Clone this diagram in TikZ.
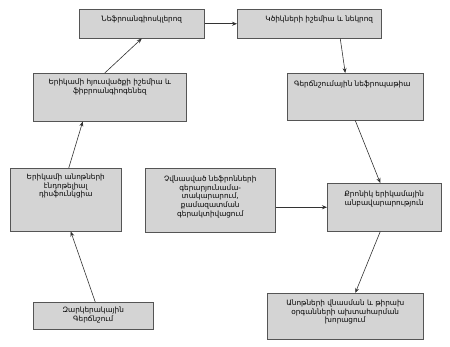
\documentclass[tikz,border=0pt]{standalone}
\usepackage{fontspec}
\setmainfont{DejaVu Sans}
\usepackage{tikz}
\usetikzlibrary{arrows.meta,positioning,shadows}
\usepackage{xcolor}
\definecolor{boxfill}{HTML}{D4D4D4}
\definecolor{boxline}{HTML}{555555}

\begin{document}
\begin{tikzpicture}[
  x=1pt, y=-1pt,
  box/.style={draw=boxline, fill=boxfill, line width=0.5pt, anchor=north west,
              inner sep=0pt, drop shadow={shadow xshift=1.2pt, shadow yshift=-1.2pt,
              fill=black!65, opacity=1}},
  lbl/.style={anchor=north, align=center, inner sep=0pt,
              font=\fontsize{7.3}{8.6}\selectfont},
  arrow/.style={-{Stealth[length=5pt,width=4pt]}, line width=0.6pt, draw=black!80}
]
\useasboundingbox (0,0) rectangle (450,346);

%% Boxes
\node[box, minimum width=125pt, minimum height=29pt] (nephro) at (79,9) {};
\node[box, minimum width=144pt, minimum height=29pt] (ischem) at (237,9) {};
\node[box, minimum width=153pt, minimum height=48pt] (fibro)  at (33,73) {};
\node[box, minimum width=136pt, minimum height=47pt] (hypnep) at (287,73) {};
\node[box, minimum width=111pt, minimum height=63pt] (endo)   at (10,168) {};
\node[box, minimum width=130pt, minimum height=64pt] (perf)   at (145,168) {};
\node[box, minimum width=114pt, minimum height=48pt] (ckd)    at (327,183) {};
\node[box, minimum width=120pt, minimum height=27pt] (arthyp) at (33,302) {};
\node[box, minimum width=156pt, minimum height=46pt] (deep)   at (267,293) {};

%% Texts
\node[lbl] (nephrot) at ([yshift=-7pt]nephro.north) {Նեֆրոանգիոսկլերոզ};
\node[lbl] (ischemt) at ([xshift=10pt,yshift=-7pt]ischem.north) {Կծիկների իշեմիա և նեկրոզ};
\node[lbl] (fibrot)  at ([yshift=-6pt]fibro.north) {Երիկամի հյուսվածքի իշեմիա և\\ֆիբրոանգիոգենեզ};
\node[lbl] (hypnept) at ([xshift=-3pt,yshift=-8pt]hypnep.north) {Գերճնշումային նեֆրոպաթիա};
\node[lbl] (endot)   at ([yshift=-6pt]endo.north) {Երիկամի անոթների\\էնդոթելիալ\\դիսֆունկցիա};
\node[lbl] (perft)   at ([yshift=-8pt]perf.north) {Չվնասված նեֆրոնների\\գերարյունամա-\\տակարարում,\\քամազատման\\գերակտիվացում};
\node[lbl] (ckdt)    at ([yshift=-8pt]ckd.north) {Քրոնիկ երիկամային\\անբավարարություն};
\node[lbl] (arthypt) at ([yshift=-5pt]arthyp.north) {Զարկերակային\\Գերճնշում};
\node[lbl] (deept)   at ([yshift=-7pt]deep.north) {Անոթների վնասման և թիրախ\\օրգանների ախտահարման\\խորացում};

%% Connectors
\draw[arrow] (nephro.east) -- (ischem.west);
\draw[arrow] ([xshift=-5pt]fibro.north) -- (nephro.south);
\draw[arrow] ([xshift=31pt]ischem.south) -- ([xshift=-10pt]hypnep.north);
\draw[arrow] (hypnep.south) -- ([xshift=-4pt]ckd.north);
\draw[arrow] (perf.east |- ckd.west) -- (ckd.west);
\draw[arrow] ([xshift=-4pt]ckd.south) -- ([xshift=10pt]deep.north);
\draw[arrow] ([xshift=2pt]arthyp.north) -- ([xshift=5pt]endo.south);
\draw[arrow] ([xshift=3pt]endo.north) -- ([xshift=-27pt]fibro.south);

\end{tikzpicture}
\end{document}
